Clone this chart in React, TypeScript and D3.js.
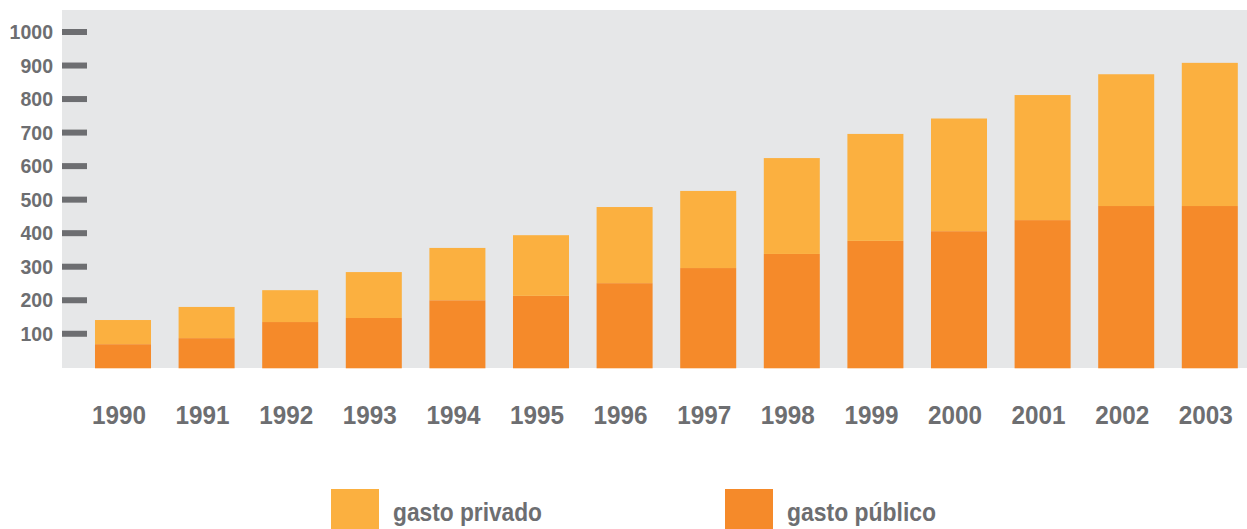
import { useEffect, useRef } from "react";
import * as d3 from "d3";

const years = ["1990", "1991", "1992", "1993", "1994", "1995", "1996", "1997", "1998", "1999", "2000", "2001", "2002", "2003"];
const gastoPublico = [69, 87, 135, 147, 200, 213, 251, 296, 338, 377, 406, 439, 481, 481];
const gastoTotal = [141, 180, 230, 284, 356, 394, 478, 526, 624, 696, 742, 812, 874, 908];
const yTicks = [100, 200, 300, 400, 500, 600, 700, 800, 900, 1000];
const legendLabels = ["gasto privado", "gasto público"];

const GREY = "#6d6e71";
const PRIVATE = "#fbb040";
const PUBLIC = "#f58a2a";

export default function App() {
  const ref = useRef<SVGSVGElement | null>(null);

  useEffect(() => {
    if (!ref.current) return;
    const width = 1247;
    const height = 529;
    const plot = { left: 62, right: 1247, top: 10, bottom: 368 };

    const svg = d3.select(ref.current);
    svg.selectAll("*").remove();
    svg.attr("width", width).attr("height", height);

    const x = d3.scaleBand().domain(years).range([81.2, 1251.6]).paddingInner(0.33).paddingOuter(0.165);
    const y = d3.scaleLinear().domain([0, 1000]).range([367.3, 32]);

    const rows = years.map((year, i) => ({
      year,
      publico: gastoPublico[i],
      privado: gastoTotal[i] - gastoPublico[i],
    }));
    const stack = d3.stack<any>().keys(["publico", "privado"])(rows);
    const colors: Record<string, string> = { publico: PUBLIC, privado: PRIVATE };

    svg
      .append("rect")
      .attr("x", plot.left)
      .attr("y", plot.top)
      .attr("width", plot.right - plot.left)
      .attr("height", plot.bottom - plot.top)
      .attr("fill", "#e6e7e8");

    svg
      .append("g")
      .selectAll("g")
      .data(stack)
      .join("g")
      .attr("fill", (s) => colors[s.key])
      .selectAll("rect")
      .data((s) => s)
      .join("rect")
      .attr("x", (d) => x(d.data.year) as number)
      .attr("width", x.bandwidth())
      .attr("y", (d) => y(d[1]))
      .attr("height", (d) => y(d[0]) - y(d[1]) + (d[0] === 0 ? 1 : 0));

    // y ticks: thick short marks + labels
    const yg = svg.append("g");
    yg.selectAll("rect")
      .data(yTicks)
      .join("rect")
      .attr("x", 62)
      .attr("y", (d) => y(d) - 3)
      .attr("width", 25)
      .attr("height", 6)
      .attr("fill", GREY);
    yg.selectAll("text")
      .data(yTicks)
      .join("text")
      .attr("x", 53)
      .attr("y", (d) => y(d) + 7)
      .attr("text-anchor", "end")
      .attr("fill", GREY)
      .style("font-family", "'Liberation Sans', Arial, sans-serif")
      .style("font-weight", "700")
      .style("font-size", "19.5px")
      .text((d) => d);

    svg
      .append("g")
      .selectAll("text")
      .data(years)
      .join("text")
      .attr("x", (d) => (x(d) as number) + x.bandwidth() / 2 - 4)
      .attr("y", 424)
      .attr("text-anchor", "middle")
      .attr("textLength", 54)
      .attr("lengthAdjust", "spacingAndGlyphs")
      .attr("fill", GREY)
      .style("font-family", "'Liberation Sans', sans-serif")
      .style("font-weight", "700")
      .style("font-size", "26.5px")
      .text((d) => d);

    const legend = svg
      .append("g")
      .selectAll("g")
      .data(legendLabels)
      .join("g")
      .attr("transform", (_, i) => `translate(${331 + i * 394}, 489)`);
    legend
      .append("rect")
      .attr("width", 48)
      .attr("height", 48)
      .attr("fill", (_, i) => (i === 0 ? PRIVATE : PUBLIC));
    legend
      .append("text")
      .attr("x", 62)
      .attr("y", 32)
      .attr("textLength", 149)
      .attr("lengthAdjust", "spacingAndGlyphs")
      .attr("fill", GREY)
      .style("font-family", "'Liberation Sans', sans-serif")
      .style("font-weight", "700")
      .style("font-size", "25px")
      .text((d) => d);
  }, []);

  return (
    <svg
      ref={ref}
      style={{ position: "absolute", left: 0, top: 0, display: "block" }}
      role="img"
      aria-label="Gasto público y privado 1990-2003"
    />
  );
}
